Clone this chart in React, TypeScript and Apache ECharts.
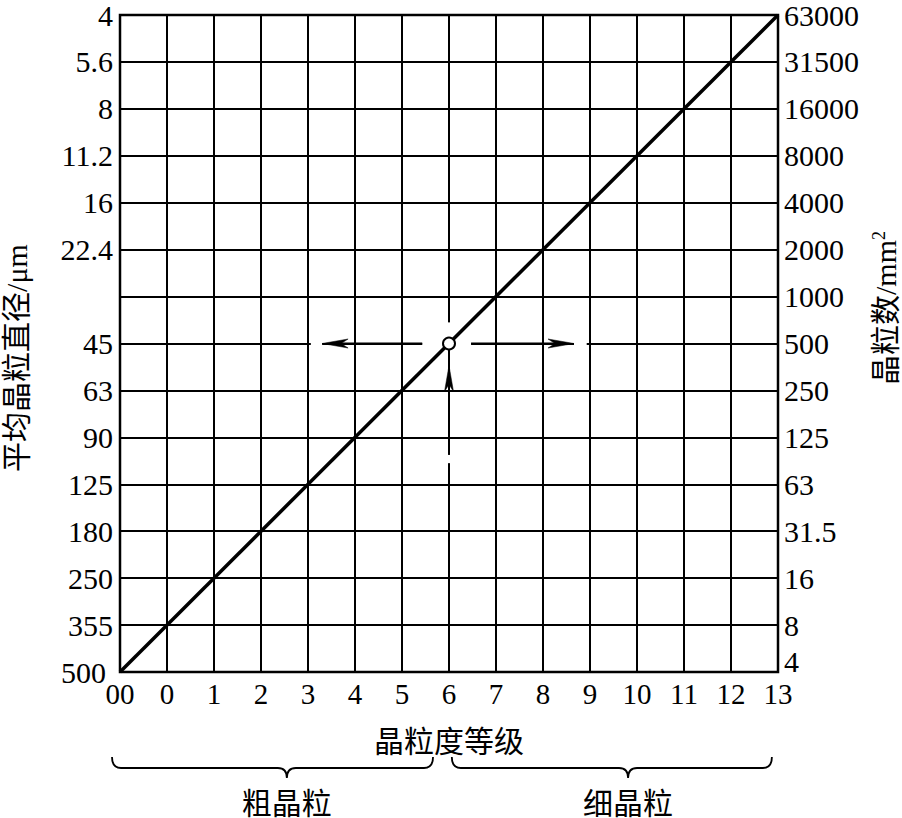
import React, { useEffect, useRef } from 'react';
import * as echarts from 'echarts';

// x positions 0..14 correspond to grain-size grades
const gradeLabels = ['00', '0', '1', '2', '3', '4', '5', '6', '7', '8', '9', '10', '11', '12', '13'];
// left axis: mean grain diameter (μm), from bottom (0) to top (14)
const diameterLabels = ['500', '355', '250', '180', '125', '90', '63', '45', '', '22.4', '16', '11.2', '8', '5.6', '4'];
// right axis: grains per mm², from bottom (0) to top (14)
const countLabels = ['4', '8', '16', '31.5', '63', '125', '250', '500', '1000', '2000', '4000', '8000', '16000', '31500', '63000'];

// grade line end points [gradeIndex, scaleIndex]
const gradeLine = [
  [0, 0],
  [14, 14],
];
// example reading: grade 6 -> 500 grains/mm² -> 45 μm
const examplePoint = [[7, 7]];

// guide segments [x1, y1, x2, y2, kind]; kind 0 = gap in grid, 1 = guide with arrow at end
const guideSegments = [
  [4.06, 7, 4.3, 7, 0],
  [6.43, 7, 7.47, 7, 0],
  [9.66, 7, 9.93, 7, 0],
  [7, 4.45, 7, 4.63, 0],
  [7, 7.12, 7, 7.45, 0],
  [6.43, 7, 4.3, 7, 1],
  [7.47, 7, 9.66, 7, 1],
  [7, 4.63, 7, 6.53, 1],
];

// braces under the x axis [start, tip, end] in grade-index units
const braces = [
  [-0.17, 3.55, 6.66],
  [7.06, 10.81, 13.87],
];
const braceLabels = ['粗晶粒', '细晶粒'];

const NUM_FONT = '"Liberation Serif", "Times New Roman", serif';
const CJK_FONT = '"Liberation Serif", "Noto Sans CJK SC", serif';
const Y_FONT_SIZE = 30;

export default function App() {
  const ref = useRef<HTMLDivElement>(null);

  useEffect(() => {
    if (!ref.current) return;
    const chart = echarts.init(ref.current, undefined, { renderer: 'svg' });

    const option: any = {
      animation: false,
      backgroundColor: '#fff',
      grid: {
        left: 120,
        right: 124,
        top: 15,
        bottom: 146,
        show: true,
        borderColor: '#000',
        borderWidth: 2.5,
        containLabel: false,
      },
      xAxis: {
        type: 'value',
        min: 0,
        max: 14,
        interval: 1,
        axisLine: { show: false },
        axisTick: { show: false },
        splitLine: { show: true, lineStyle: { color: '#000', width: 2 } },
        axisLabel: {
          color: '#000',
          fontFamily: NUM_FONT,
          fontSize: 29,
          margin: 7,
          formatter: (v: number) => gradeLabels[Math.round(v)] ?? '',
        },
        name: '晶粒度等级',
        nameLocation: 'middle',
        nameGap: 54,
        nameTextStyle: { color: '#000', fontFamily: CJK_FONT, fontSize: 30 },
      },
      yAxis: [
        {
          type: 'value',
          position: 'left',
          min: 0,
          max: 14,
          interval: 1,
          axisLine: { show: false },
          axisTick: { show: false },
          splitLine: { show: true, lineStyle: { color: '#000', width: 2 } },
          axisLabel: {
            color: '#000',
            fontFamily: NUM_FONT,
            fontSize: Y_FONT_SIZE,
            margin: 7,
            formatter: (v: number) => {
              const i = Math.round(v);
              const t = diameterLabels[i] ?? '';
              return i === 0 ? `{low|${t}}` : t;
            },
            rich: {
              low: {
                color: '#000',
                fontFamily: NUM_FONT,
                fontSize: Y_FONT_SIZE,
                padding: [0, 7, 0, 0],
              },
            },
          },
        },
        {
          type: 'value',
          position: 'right',
          min: 0,
          max: 14,
          interval: 1,
          axisLine: { show: false },
          axisTick: { show: false },
          splitLine: { show: false },
          axisLabel: {
            color: '#000',
            fontFamily: NUM_FONT,
            fontSize: Y_FONT_SIZE,
            margin: 6,
            formatter: (v: number) => {
              const i = Math.round(v);
              const t = countLabels[i] ?? '';
              return i === 0 ? `{low|${t}}` : t;
            },
            rich: {
              low: {
                color: '#000',
                fontFamily: NUM_FONT,
                fontSize: Y_FONT_SIZE,
                padding: [0, 0, 22, 0],
              },
            },
          },
        },
      ],
      graphic: [
        {
          type: 'text',
          x: 16,
          y: 358,
          rotation: Math.PI / 2,
          style: {
            text: '平均晶粒直径/μm',
            fill: '#000',
            font: `30px ${CJK_FONT}`,
            align: 'center',
            verticalAlign: 'middle',
          },
        },
        {
          type: 'text',
          x: 885,
          y: 308,
          rotation: Math.PI / 2,
          style: {
            text: '{a|晶粒数/mm}{s|2}',
            align: 'center',
            verticalAlign: 'middle',
            rich: {
              a: { fill: '#000', fontFamily: CJK_FONT, fontSize: 30, verticalAlign: 'bottom' },
              s: { fill: '#000', fontFamily: NUM_FONT, fontSize: 18, verticalAlign: 'top' },
            },
          },
        },
      ],
      series: [
        {
          type: 'custom',
          name: 'guides',
          clip: false,
          z: 3,
          silent: true,
          data: guideSegments,
          renderItem: (params: any, api: any) => {
            const p1 = api.coord([api.value(0), api.value(1)]);
            const p2 = api.coord([api.value(2), api.value(3)]);
            const kind = api.value(4);
            if (kind === 0) {
              return {
                type: 'line',
                shape: { x1: p1[0], y1: p1[1], x2: p2[0], y2: p2[1] },
                style: { stroke: '#fff', lineWidth: 6 },
              };
            }
            const dx = p2[0] - p1[0];
            const dy = p2[1] - p1[1];
            const len = Math.sqrt(dx * dx + dy * dy) || 1;
            const ux = dx / len;
            const uy = dy / len;
            const nx = -uy;
            const ny = ux;
            const L = 26;
            const W = 4.5;
            const bx = p2[0] - ux * L;
            const by = p2[1] - uy * L;
            const mx = p2[0] - ux * (L - 7);
            const my = p2[1] - uy * (L - 7);
            return {
              type: 'group',
              children: [
                {
                  type: 'line',
                  shape: { x1: p1[0], y1: p1[1], x2: mx, y2: my },
                  style: { stroke: '#000', lineWidth: 2 },
                },
                {
                  type: 'polygon',
                  shape: {
                    points: [
                      [p2[0], p2[1]],
                      [bx + nx * W, by + ny * W],
                      [mx, my],
                      [bx - nx * W, by - ny * W],
                    ],
                  },
                  style: { fill: '#000', stroke: '#000', lineWidth: 0.5 },
                },
              ],
            };
          },
        },
        {
          type: 'custom',
          name: 'braces',
          clip: false,
          z: 3,
          silent: true,
          data: braces,
          renderItem: (params: any, api: any) => {
            const base = api.coord([0, 0])[1];
            const x0 = api.coord([api.value(0), 0])[0];
            const xt = api.coord([api.value(1), 0])[0];
            const x1 = api.coord([api.value(2), 0])[0];
            const yEnd = base + 85;
            const yLine = base + 96;
            const yTip = base + 106;
            const r = 9;
            const d =
              `M${x0},${yEnd} Q${x0},${yLine} ${x0 + r},${yLine} ` +
              `L${xt - r},${yLine} Q${xt},${yLine} ${xt},${yTip} ` +
              `Q${xt},${yLine} ${xt + r},${yLine} ` +
              `L${x1 - r},${yLine} Q${x1},${yLine} ${x1},${yEnd}`;
            return {
              type: 'group',
              children: [
                {
                  type: 'path',
                  shape: {
                    pathData: d,
                    x: x0,
                    y: yEnd,
                    width: x1 - x0,
                    height: yTip - yEnd,
                    layout: 'cover',
                  },
                  style: { fill: 'none', stroke: '#000', lineWidth: 1.8 },
                },
                {
                  type: 'text',
                  x: xt,
                  y: base + 131,
                  style: {
                    text: braceLabels[params.dataIndex],
                    fill: '#000',
                    font: `30px ${CJK_FONT}`,
                    align: 'center',
                    verticalAlign: 'middle',
                  },
                },
              ],
            };
          },
        },
        {
          type: 'line',
          name: '晶粒度',
          data: gradeLine,
          z: 5,
          symbol: 'none',
          silent: true,
          lineStyle: { color: '#000', width: 3.5 },
        },
        {
          type: 'scatter',
          name: '示例',
          data: examplePoint,
          z: 6,
          symbol: 'circle',
          symbolSize: 12,
          silent: true,
          itemStyle: { color: '#fff', borderColor: '#000', borderWidth: 2, opacity: 1 },
        },
      ],
    };

    chart.setOption(option);
    return () => chart.dispose();
  }, []);

  return (
    <div
      ref={ref}
      style={{ position: 'fixed', left: 0, top: 0, width: 902, height: 818, background: '#fff' }}
    />
  );
}
